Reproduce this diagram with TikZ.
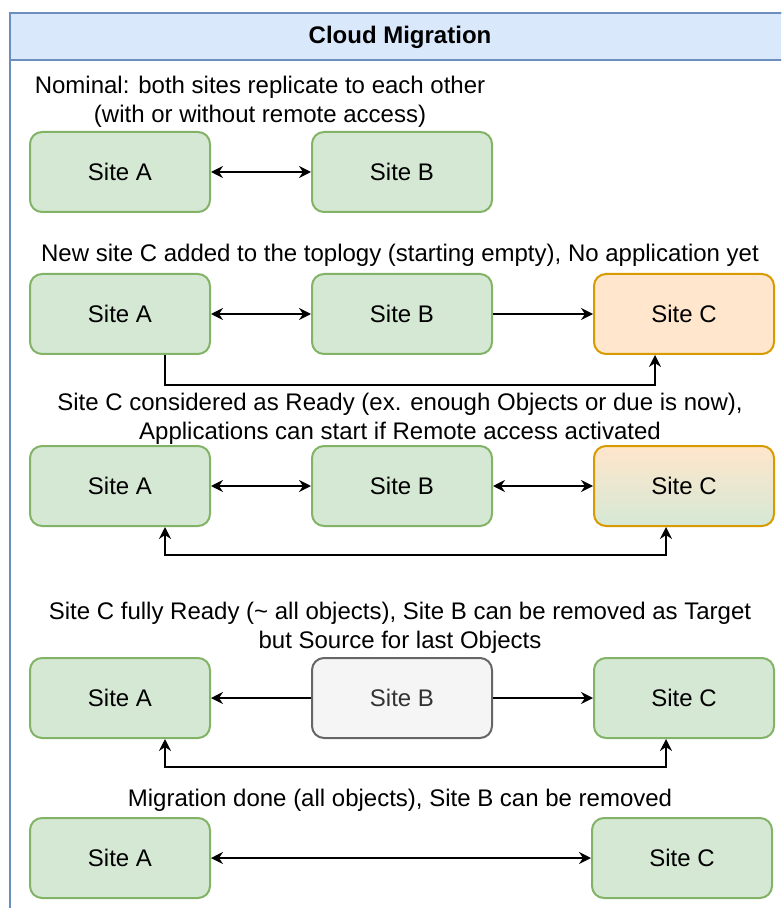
\documentclass[tikz,border=0pt]{standalone}
\usepackage{fontspec}
\setmainfont{Liberation Sans}
\usetikzlibrary{positioning, arrows.meta}
\definecolor{greenfill}{HTML}{D5E8D4}
\definecolor{greenline}{HTML}{82B366}
\definecolor{orangefill}{HTML}{FFE6CC}
\definecolor{orangeline}{HTML}{D79B00}
\definecolor{grayfill}{HTML}{F5F5F5}
\definecolor{grayline}{HTML}{666666}
\definecolor{graytext}{HTML}{333333}
\definecolor{headfill}{HTML}{DAE8FC}
\definecolor{headline}{HTML}{6C8EBF}
\tikzset{
    x=0.5pt, y=-0.5pt, % one unit is one pixel of the drawing, y going down
    node distance=50pt, % gap between two sites of a row
    >={Stealth[length=6pt, width=6pt, inset=2pt]}, % filled arrow heads
    every node/.style={font=\fontsize{12pt}{14.5pt}\selectfont}, % text size
    site/.style={draw=greenline, fill=greenfill, line width=1pt, rounded corners=6pt,
        minimum width=90pt, minimum height=40pt, inner sep=0pt}, % a running site
    newsite/.style={site, draw=orangeline, fill=orangefill}, % site still empty
    readysite/.style={site, draw=orangeline, top color=orangefill, bottom color=greenfill}, % site getting ready
    oldsite/.style={site, draw=grayline, fill=grayfill, text=graytext}, % site being removed
    caption/.style={align=center}, % text above each row
    link/.style={line width=1pt}, % replication lines
}
\begin{document}
\begin{tikzpicture}
    \clip (0,0) rectangle (781,908);
    \draw[headline, line width=1pt] (10,13) rectangle (800,940);
    \draw[draw=headline, fill=headfill, line width=1pt] (10,13) rectangle (800,60);
    \node[font=\fontsize{12pt}{14.5pt}\selectfont\bfseries] (title) at (400,37) {Cloud Migration};

    % nominal
    \node[caption] (cap1) at (260,102) {Nominal: both sites replicate to each other\\(with or without remote access)};
    \node[site] (a1) at (120,172) {Site A};
    \node[site, right=of a1] (b1) {Site B};
    \draw[link] (a1) edge[<->] (b1);

    % site C added
    \node[caption] (cap2) at (400,255) {New site C added to the toplogy (starting empty), No application yet};
    \node[site] (a2) at (120,314) {Site A};
    \node[site, right=of a2] (b2) {Site B};
    \node[newsite, right=of b2] (c2) {Site C};
    \draw[link] (a2) edge[<->] (b2)
                (b2) edge[->] (c2);
    \draw[link, ->] ([xshift=22.5pt]a2.south) -- ++(0,30) -| ([xshift=-14.5pt]c2.south);

    % site C ready
    \node[caption] (cap3) at (400,419) {Site C considered as Ready (ex. enough Objects or due is now),\\Applications can start if Remote access activated};
    \node[site] (a3) at (120,486) {Site A};
    \node[site, right=of a3] (b3) {Site B};
    \node[readysite, right=of b3] (c3) {Site C};
    \draw[link] (a3) edge[<->] (b3)
                (b3) edge[<->] (c3);
    \draw[link, <->] ([xshift=22.5pt]a3.south) -- ++(0,28) -| ([xshift=-9pt]c3.south);

    % site C fully ready
    \node[caption] (cap4) at (400,627.5) {Site C fully Ready (\textasciitilde{} all objects), Site B can be removed as Target\\but Source for last Objects};
    \node[site] (a4) at (120,698) {Site A};
    \node[oldsite, right=of a4] (b4) {Site B};
    \node[site, right=of b4] (c4) {Site C};
    \draw[link] (b4) edge[->] (a4)
                (b4) edge[->] (c4);
    \draw[link, <->] ([xshift=22.5pt]a4.south) -- ++(0,28) -| ([xshift=-9pt]c4.south);

    % migration done
    \node[caption] (cap5) at (400,800) {Migration done (all objects), Site B can be removed};
    \node[site] (a5) at (120,858) {Site A};
    \node[site, right=190pt of a5] (c5) {Site C};
    \draw[link] (a5) edge[<->] (c5);
\end{tikzpicture}
\end{document}
